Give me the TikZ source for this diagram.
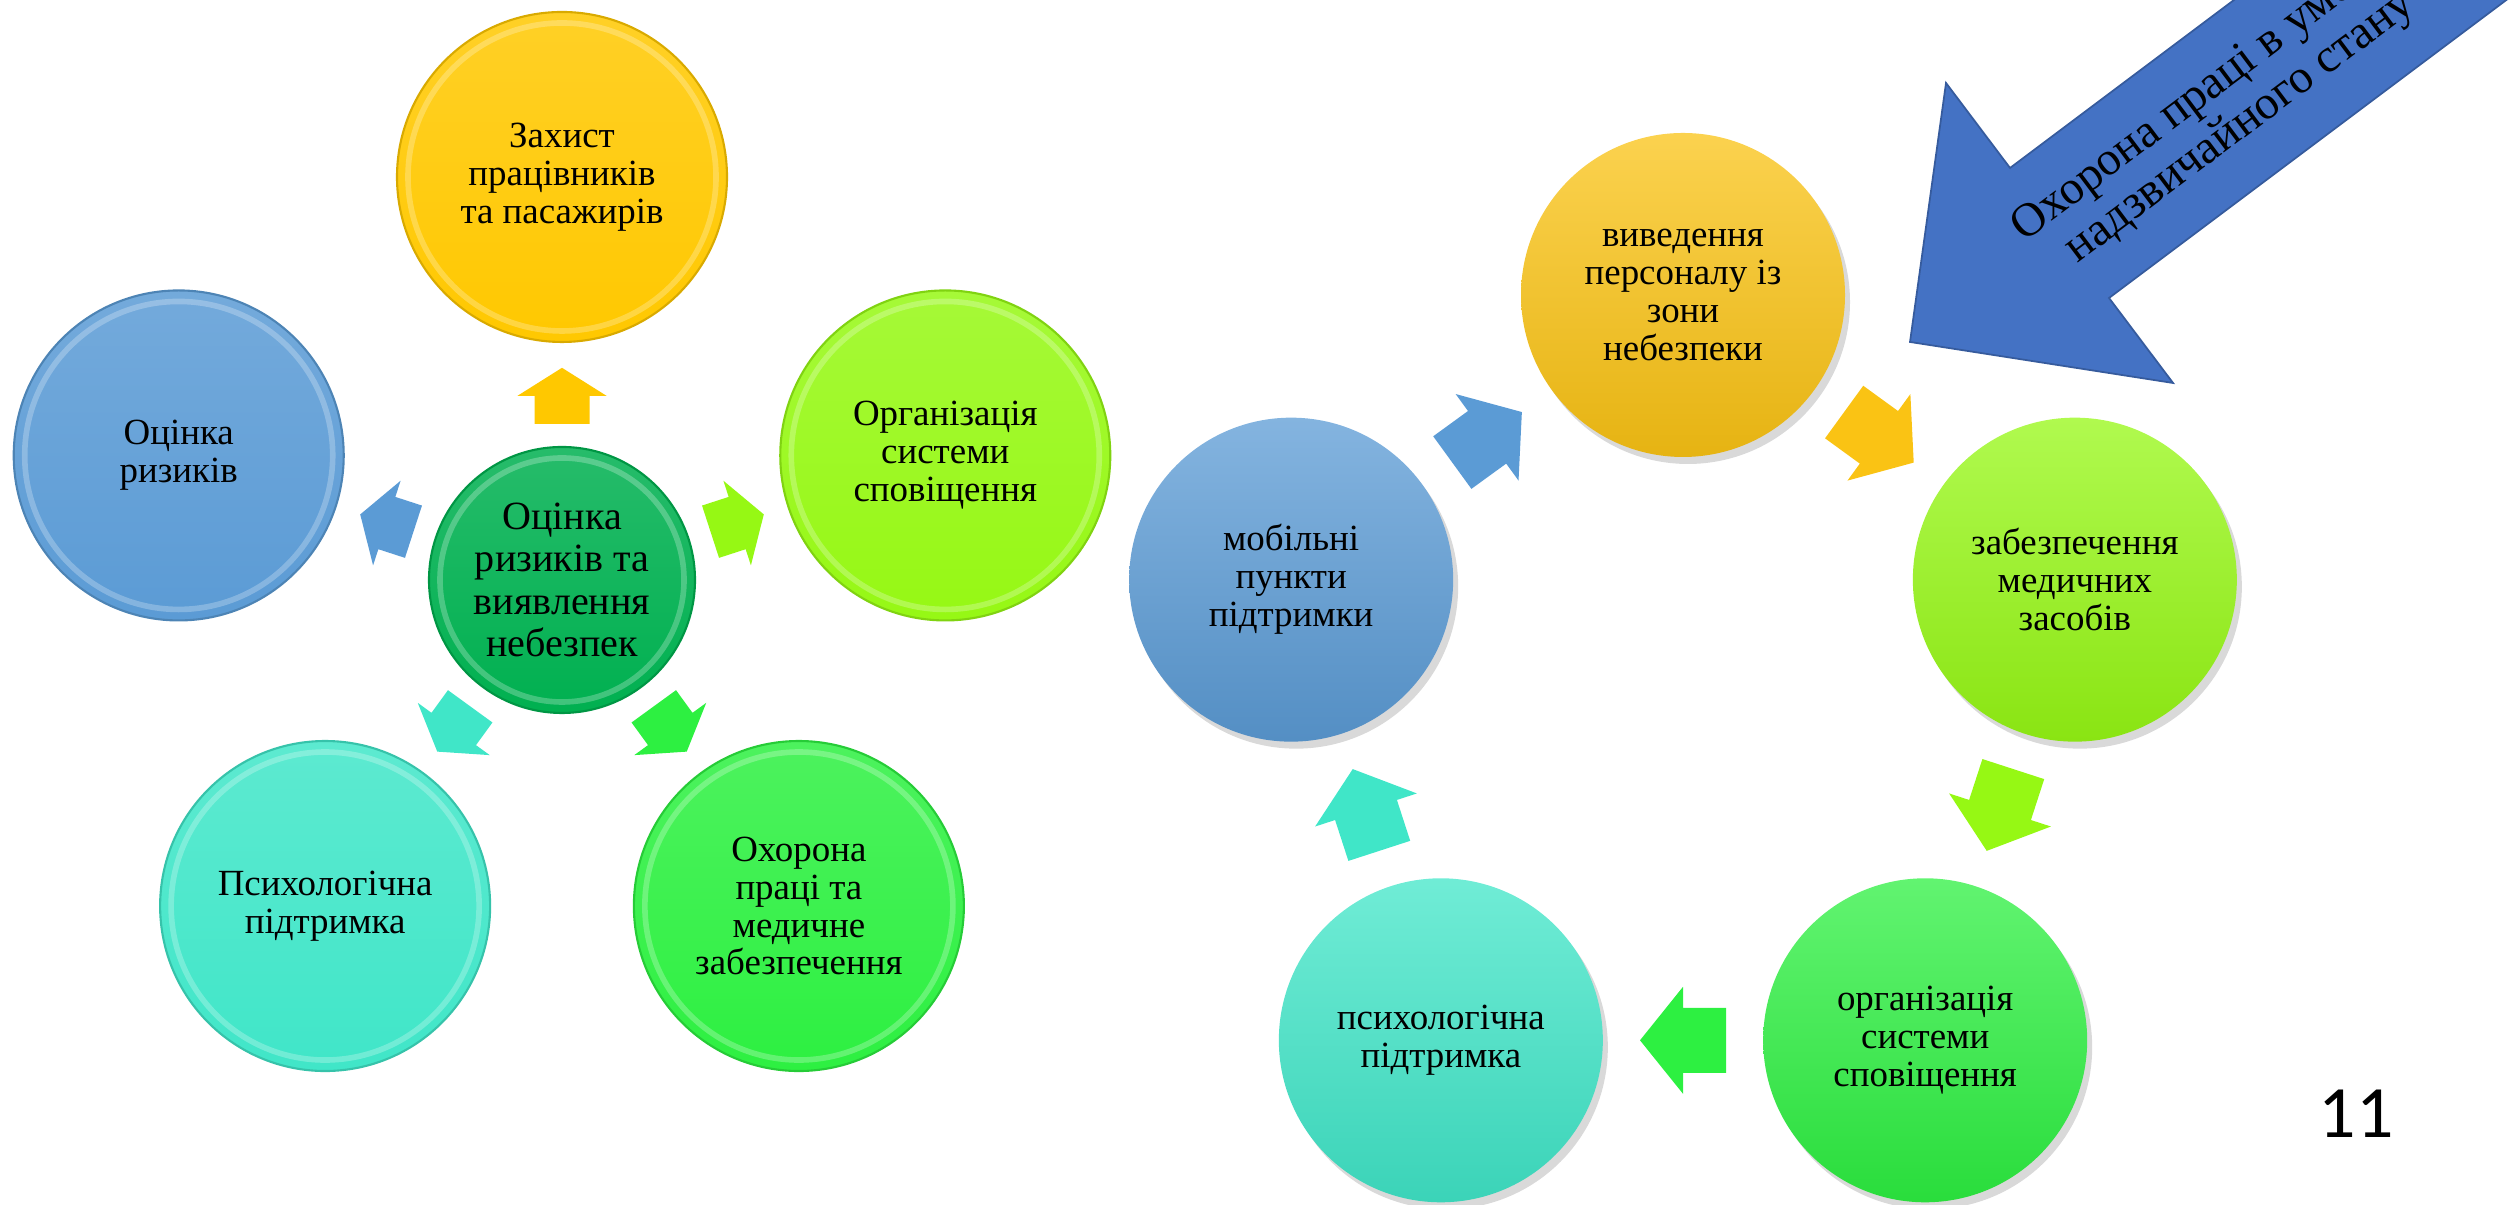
\documentclass[tikz,border=0pt]{standalone}
\usepackage{fontspec}
\setmainfont{Liberation Serif}
\newfontfamily\numfont{Carlito}
\usetikzlibrary{calc,shadows}
\definecolor{temnozel}{RGB}{0,176,80}
\definecolor{zhovtyi}{RGB}{255,200,0}
\definecolor{synii}{RGB}{91,155,213}
\definecolor{salat}{RGB}{150,248,20}
\definecolor{biruza}{RGB}{64,230,200}
\definecolor{zelenyi}{RGB}{45,240,65}
\definecolor{pomaranch}{RGB}{250,195,20}
\definecolor{strilka}{RGB}{68,114,196}
\newcommand\krug{\rmfamily\fontsize{10.5}{10.8}\selectfont}
\tikzset{ %кола і стрілки
    kolo/.style 2 args={circle, inner sep=0pt, minimum size=#2, align=center, font=\krug,
        top color=#1!85!white, bottom color=#1, draw=#1!85!black, line width=0.6pt,
        path picture={\draw[white, opacity=0.25, line width=1.6pt]
            (path picture bounding box.center) circle [radius={#2/2-0.11cm}];}},
    ovel/.style={circle, inner sep=0pt, minimum size=3.24cm, align=center, font=\krug,
        top color=#1!75!white, bottom color=#1!92!black,
        drop shadow={shadow xshift=0.05cm, shadow yshift=-0.07cm, opacity=0.3}},
    pics/blockarr/.style n args={4}{code={
        \fill[pic actions] ({-#1/2},{-#3/2}) -- ({#1/2-#4},{-#3/2}) -- ({#1/2-#4},{-#2/2}) -- ({#1/2},0)
            -- ({#1/2-#4},{#2/2}) -- ({#1/2-#4},{#3/2}) -- ({-#1/2},{#3/2}) -- cycle;
    }},
}

\begin{document}
\begin{tikzpicture}
    \useasboundingbox (0,0) rectangle (25.17,12.05);
    \clip (0,0) rectangle (25.17,12.05);
    % ліва схема
    \node[kolo={temnozel}{2.66cm}, font=\rmfamily\fontsize{11.4}{12}\selectfont] (hub) at (5.62,6.25) {Оцінка\\ризиків та\\виявлення\\небезпек};
    \foreach \ang/\col/\txt [count=\i] in {90/zhovtyi/{Захист\\працівників\\та пасажирів},
            18/salat/{Організація\\системи\\сповіщення}, -54/zelenyi/{Охорона\\праці та\\медичне\\забезпечення},
            -126/biruza/{Психологічна\\підтримка}, 162/synii/{Оцінка\\ризиків}}{
        \node[kolo={\col}{3.3cm}] (l\i) at ($(hub)+(\ang:4.03)$) {\txt};
        \pic[fill=\col, rotate=\ang] at ($(hub)!0.457!(l\i)$) {blockarr={0.56}{0.89}{0.55}{0.28}};
    }
    % права схема
    \coordinate (kr) at (16.83,4.98);
    \foreach \ang/\col/\txt [count=\i] in {90/pomaranch/{виведення\\персоналу із\\зони\\небезпеки},
            18/salat/{забезпечення\\медичних\\засобів}, -54/zelenyi/{організація\\системи\\сповіщення},
            -126/biruza/{психологічна\\підтримка}, 162/synii/{мобільні\\пункти\\підтримки}}
        \node[ovel=\col] (r\i) at ($(kr)+(\ang:4.12)$) {\txt};
    \foreach \i/\j/\ang/\col in {1/2/-36/pomaranch, 2/3/-108/salat, 3/4/180/zelenyi, 4/5/108/biruza, 5/1/36/synii}
        \pic[fill=\col, rotate=\ang] at ($(r\i)!0.5!(r\j)$) {blockarr={0.86}{1.07}{0.65}{0.43}};
    % велика стрілка
    \filldraw[fill=strilka, draw=strilka!80!black, line width=0.5pt] (19.10,8.63) -- (19.46,11.22) -- (20.10,10.37)
        -- (25.70,14.57) -- (26.69,13.27) -- (21.09,9.07) -- (21.73,8.22) -- cycle;
    \node[rotate=36.9, align=center, font=\rmfamily\fontsize{13.5}{14}\selectfont] (napys) at (22.26,10.97) {Охорона праці в умовах\\надзвичайного стану};
    \node[font=\numfont\fontsize{21}{21}\selectfont] (nomer) at (23.56,0.91) {11};
\end{tikzpicture}
\end{document}
